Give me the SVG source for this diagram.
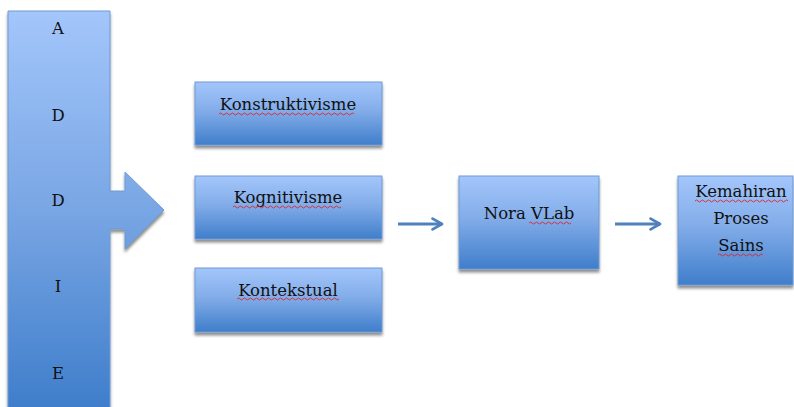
<svg xmlns="http://www.w3.org/2000/svg" width="794" height="407" viewBox="0 0 794 407">
<defs>
<linearGradient id="gBox" x1="0" y1="0" x2="0" y2="1">
<stop offset="0" stop-color="#a3c6fb"/>
<stop offset="0.45" stop-color="#83ade9"/>
<stop offset="1" stop-color="#3f7ecb"/>
</linearGradient>
<linearGradient id="gBar" gradientUnits="userSpaceOnUse" x1="0" y1="11" x2="0" y2="407">
<stop offset="0" stop-color="#a3c6fb"/>
<stop offset="0.5" stop-color="#79a6e4"/>
<stop offset="1" stop-color="#3f7ecb"/>
</linearGradient>
<filter id="sh" x="-10%" y="-10%" width="120%" height="130%">
<feGaussianBlur in="SourceAlpha" stdDeviation="1.5"/>
<feOffset dx="0" dy="2.5" result="b"/>
<feComponentTransfer><feFuncA type="linear" slope="0.45"/></feComponentTransfer>
<feMerge><feMergeNode/><feMergeNode in="SourceGraphic"/></feMerge>
</filter>
<marker id="ah" viewBox="0 0 10 10" refX="8" refY="5" markerWidth="4.5" markerHeight="4.5" orient="auto" markerUnits="strokeWidth">
<path d="M1,1 L8,5 L1,9" fill="none" stroke="#4f81bd" stroke-width="2" stroke-linecap="round" stroke-linejoin="round"/>
</marker>
</defs>
<style>
.box{fill:url(#gBox);stroke:#6f9ad3;stroke-width:1;filter:url(#sh)}
.t{font-family:"DejaVu Serif","Liberation Serif",serif;font-size:16.5px;fill:#111;text-anchor:middle}
.sq{fill:none;stroke:#e0242a;stroke-width:0.9}
.conn{stroke:#4f81bd;stroke-width:3;fill:none;marker-end:url(#ah)}
</style>

<g id="addie">
<path d="M8,11 H110 V191 H125 V172 L164,210 L125,249 V229 H110 V410 H8 Z" fill="url(#gBar)" stroke="#6f9ad3" stroke-width="1" filter="url(#sh)"/>
<text class="t" x="58" y="34">A</text>
<text class="t" x="58" y="121">D</text>
<text class="t" x="58" y="206">D</text>
<text class="t" x="58" y="292">I</text>
<text class="t" x="58" y="379">E</text>
</g>

<g id="konstruktivisme">
<rect class="box" x="195" y="82" width="187" height="63"/>
<text class="t" x="288" y="110">Konstruktivisme</text>
<path class="sq" d="M219,114 q1.5,-2 3,0 t3,0 t3,0 t3,0 t3,0 t3,0 t3,0 t3,0 t3,0 t3,0 t3,0 t3,0 t3,0 t3,0 t3,0 t3,0 t3,0 t3,0 t3,0 t3,0 t3,0 t3,0 t3,0 t3,0 t3,0 t3,0 t3,0 t3,0 t3,0 t3,0 t3,0 t3,0 t3,0 t3,0 t3,0 t3,0 t3,0 t3,0 t3,0 t3,0 t3,0 t3,0 t3,0 t3,0 t3,0"/>
</g>

<g id="kognitivisme">
<rect class="box" x="195" y="176" width="187" height="63"/>
<text class="t" x="288" y="203">Kognitivisme</text>
<path class="sq" d="M233,207 q1.5,-2 3,0 t3,0 t3,0 t3,0 t3,0 t3,0 t3,0 t3,0 t3,0 t3,0 t3,0 t3,0 t3,0 t3,0 t3,0 t3,0 t3,0 t3,0 t3,0 t3,0 t3,0 t3,0 t3,0 t3,0 t3,0 t3,0 t3,0 t3,0 t3,0 t3,0 t3,0 t3,0 t3,0 t3,0 t3,0 t3,0"/>
</g>

<g id="kontekstual">
<rect class="box" x="195" y="268" width="187" height="64"/>
<text class="t" x="288" y="296">Kontekstual</text>
<path class="sq" d="M237,299 q1.5,-2 3,0 t3,0 t3,0 t3,0 t3,0 t3,0 t3,0 t3,0 t3,0 t3,0 t3,0 t3,0 t3,0 t3,0 t3,0 t3,0 t3,0 t3,0 t3,0 t3,0 t3,0 t3,0 t3,0 t3,0 t3,0 t3,0 t3,0 t3,0 t3,0 t3,0 t3,0 t3,0 t3,0 t3,0"/>
</g>

<g id="noravlab">
<rect class="box" x="459" y="176" width="140" height="93"/>
<text class="t" x="529" y="219">Nora VLab</text>
<path class="sq" d="M529,223 q1.5,-2 3,0 t3,0 t3,0 t3,0 t3,0 t3,0 t3,0 t3,0 t3,0 t3,0 t3,0 t3,0 t3,0 t3,0"/>
</g>

<g id="kemahiran">
<rect class="box" x="678" y="176" width="115" height="109"/>
<text class="t" x="741" y="197">Kemahiran</text>
<text class="t" x="741" y="224">Proses</text>
<text class="t" x="741" y="251">Sains</text>
<path class="sq" d="M695,201 q1.5,-2 3,0 t3,0 t3,0 t3,0 t3,0 t3,0 t3,0 t3,0 t3,0 t3,0 t3,0 t3,0 t3,0 t3,0 t3,0 t3,0 t3,0 t3,0 t3,0 t3,0 t3,0 t3,0 t3,0 t3,0 t3,0 t3,0 t3,0 t3,0 t3,0 t3,0 t3,0"/>
<path class="sq" d="M718,255 q1.5,-2 3,0 t3,0 t3,0 t3,0 t3,0 t3,0 t3,0 t3,0 t3,0 t3,0 t3,0 t3,0 t3,0 t3,0 t3,0"/>
</g>

<g id="connectors">
<line class="conn" x1="398" y1="224" x2="442" y2="224"/>
<line class="conn" x1="615" y1="224" x2="660" y2="224"/>
</g>
</svg>
